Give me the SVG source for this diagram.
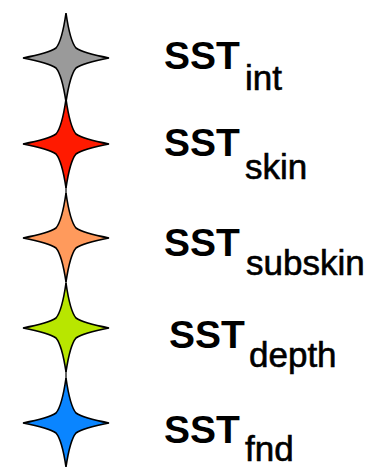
<svg xmlns="http://www.w3.org/2000/svg" xmlns:xlink="http://www.w3.org/1999/xlink" width="384" height="467" viewBox="0 0 384 467">
<style>
.star{stroke:#000;stroke-width:1.6;stroke-linejoin:miter}
.main{font-family:"Liberation Sans",Arial,sans-serif;font-weight:bold;font-size:39px;fill:#000}
.sub{font-family:"Liberation Sans",Arial,sans-serif;font-weight:normal;font-size:35px;fill:#000;stroke:#000;stroke-width:0.6}
</style>
<defs>
<path id="st" d="M0,-45 Q4,-17 10,-10 Q17,-5 43,0 Q17,5 10,10 Q4,17 0,44 Q-4,17 -10,10 Q-17,5 -43,0 Q-17,-5 -10,-10 Q-4,-17 0,-45 Z"/>
</defs>
<rect width="384" height="467" fill="#fff"/>
<g id="connectors">
<line x1="66" y1="58" x2="66" y2="423" stroke="#333" stroke-width="1.5"/>
</g>
<g id="int">
<use xlink:href="#st" href="#st" class="star" fill="#9a9a9a" transform="translate(66,58)"/>
<text x="164" y="69" class="main">SST<tspan class="sub" x="245" y="90">int</tspan></text>
</g>
<g id="skin">
<use xlink:href="#st" href="#st" class="star" fill="#ff1a00" transform="translate(66,144)"/>
<text x="164" y="156" class="main">SST<tspan class="sub" x="245" y="179">skin</tspan></text>
</g>
<g id="subskin">
<use xlink:href="#st" href="#st" class="star" fill="#ff9a5c" transform="translate(66,238)"/>
<text x="164" y="256" class="main">SST<tspan class="sub" x="246" y="275">subskin</tspan></text>
</g>
<g id="depth">
<use xlink:href="#st" href="#st" class="star" fill="#b8e600" transform="translate(66,328)"/>
<text x="169" y="348" class="main">SST<tspan class="sub" x="249" y="367">depth</tspan></text>
</g>
<g id="fnd">
<use xlink:href="#st" href="#st" class="star" fill="#0a85ff" transform="translate(66,423)"/>
<text x="164" y="443" class="main">SST<tspan class="sub" x="245" y="461">fnd</tspan></text>
</g>
</svg>
